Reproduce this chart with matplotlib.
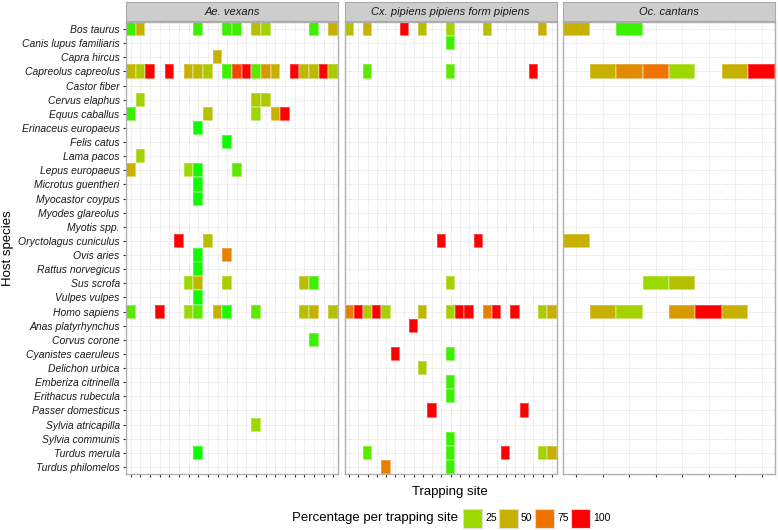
import numpy as np
import matplotlib.pyplot as plt
from matplotlib.colors import LinearSegmentedColormap
from matplotlib.patches import Rectangle

plt.rcParams['font.family'] = ['Liberation Sans', 'DejaVu Sans']

species = ['Bos taurus', 'Canis lupus familiaris', 'Capra hircus', 'Capreolus capreolus',
           'Castor fiber', 'Cervus elaphus', 'Equus caballus', 'Erinaceus europaeus',
           'Felis catus', 'Lama pacos', 'Lepus europaeus', 'Microtus guentheri',
           'Myocastor coypus', 'Myodes glareolus', 'Myotis spp.', 'Oryctolagus cuniculus',
           'Ovis aries', 'Rattus norvegicus', 'Sus scrofa', 'Vulpes vulpes', 'Homo sapiens',
           'Anas platyrhynchus', 'Corvus corone', 'Cyanistes caeruleus', 'Delichon urbica',
           'Emberiza citrinella', 'Erithacus rubecula', 'Passer domesticus',
           'Sylvia atricapilla', 'Sylvia communis', 'Turdus merula', 'Turdus philomelos']

mosquitoes = ['Ae. vexans', 'Cx. pipiens pipiens form pipiens', 'Oc. cantans']
n_sites = [22, 23, 8]

# (trapping site, percentage) per host species
vexans = {
    'Bos taurus': [(1, 10), (2, 50), (8, 10), (11, 10), (12, 10), (14, 40), (15, 30), (20, 10), (22, 50)],
    'Capra hircus': [(10, 50)],
    'Capreolus capreolus': [(1, 45), (2, 35), (3, 100), (5, 100), (7, 50), (8, 45), (9, 35), (11, 10),
                            (12, 85), (13, 100), (14, 15), (15, 60), (16, 50), (18, 100), (19, 45),
                            (20, 45), (21, 100), (22, 35)],
    'Cervus elaphus': [(2, 30), (14, 35), (15, 35)],
    'Equus caballus': [(1, 10), (9, 40), (14, 25), (16, 50), (17, 100)],
    'Erinaceus europaeus': [(8, 3)],
    'Felis catus': [(11, 3)],
    'Lama pacos': [(2, 30)],
    'Lepus europaeus': [(1, 50), (7, 25), (8, 3), (12, 15)],
    'Microtus guentheri': [(8, 3)],
    'Myocastor coypus': [(8, 3)],
    'Oryctolagus cuniculus': [(6, 100), (9, 40)],
    'Ovis aries': [(8, 3), (11, 70)],
    'Rattus norvegicus': [(8, 3)],
    'Sus scrofa': [(7, 25), (8, 45), (11, 35), (19, 40), (20, 10)],
    'Vulpes vulpes': [(8, 3)],
    'Homo sapiens': [(1, 15), (4, 100), (7, 25), (8, 15), (10, 50), (11, 5), (14, 15), (19, 40),
                     (20, 50), (22, 40)],
    'Corvus corone': [(20, 10)],
    'Sylvia atricapilla': [(14, 25)],
    'Turdus merula': [(8, 3)],
}

pipiens = {
    'Bos taurus': [(1, 40), (3, 50), (7, 100), (9, 40), (12, 30), (16, 40), (22, 50)],
    'Canis lupus familiaris': [(12, 10)],
    'Capreolus capreolus': [(3, 15), (12, 15), (21, 100)],
    'Oryctolagus cuniculus': [(11, 100), (15, 100)],
    'Sus scrofa': [(12, 30)],
    'Homo sapiens': [(1, 70), (2, 100), (3, 35), (4, 100), (5, 30), (9, 45), (12, 30), (13, 100),
                     (14, 100), (16, 70), (17, 100), (19, 100), (22, 35), (23, 50)],
    'Anas platyrhynchus': [(8, 100)],
    'Cyanistes caeruleus': [(6, 100), (12, 10)],
    'Delichon urbica': [(9, 35)],
    'Emberiza citrinella': [(12, 10)],
    'Erithacus rubecula': [(12, 10)],
    'Passer domesticus': [(10, 100), (20, 100)],
    'Sylvia communis': [(12, 10)],
    'Turdus merula': [(3, 15), (12, 10), (18, 100), (22, 30), (23, 50)],
    'Turdus philomelos': [(5, 70), (12, 10)],
}

cantans = {
    'Bos taurus': [(1, 50), (3, 10)],
    'Capreolus capreolus': [(2, 50), (3, 65), (4, 75), (5, 25), (7, 50), (8, 100)],
    'Oryctolagus cuniculus': [(1, 50)],
    'Sus scrofa': [(4, 25), (5, 40)],
    'Homo sapiens': [(2, 50), (3, 30), (5, 60), (6, 100), (7, 50)],
}

legend_values = [25, 50, 75, 100]

cmap = LinearSegmentedColormap.from_list('pct', [(0, '#00FF00'), (0.25, '#9CD900'), (0.5, '#C8B000'),
                                                 (0.75, '#EE7400'), (1, '#FF0000')])

W, H = 778, 530
fig = plt.figure(figsize=(W / 100, H / 100), dpi=100)

def px(x0, y0, w, h):
    # pixel box measured from top-left -> figure fraction
    return [x0 / W, 1 - (y0 + h) / H, w / W, h / H]

panel_left = [126, 344.5, 563]
panel_w = 212
top, bottom = 22, 474

for i, (name, data, n) in enumerate(zip(mosquitoes, [vexans, pipiens, cantans], n_sites)):
    ax = fig.add_axes(px(panel_left[i], top, panel_w, bottom - top))
    grid = np.full((len(species), n), np.nan)
    for sp, cells in data.items():
        r = species.index(sp)
        for site, v in cells:
            grid[r, site - 1] = v
    ax.pcolormesh(np.arange(0.5, n + 1), np.arange(-0.5, len(species)), np.ma.masked_invalid(grid),
                  cmap=cmap, vmin=0, vmax=100, edgecolor=(1, 1, 1, 0.25), linewidth=0.3)
    ax.set_xlim(0.5, n + 0.5)
    ax.set_ylim(len(species) - 0.5, -0.5)
    ax.set_xticks(range(1, n + 1))
    ax.set_xticklabels([])
    ax.set_yticks(range(len(species)))
    ax.tick_params(length=2.5, width=0.8, color='#333333')
    if i == 0:
        ax.set_yticklabels(species, fontstyle='italic', fontsize=7.5, color='#1A1A1A')
        ax.tick_params(axis='y', pad=2)
    else:
        ax.set_yticklabels([])
        ax.tick_params(axis='y', length=0)
    ax.grid(True, color='#E3E3E3', linewidth=0.6, linestyle=(0, (2, 1)))
    ax.set_axisbelow(True)
    for s in ax.spines.values():
        s.set_color('#B0B0B0')
        s.set_linewidth(1.0)

    strip = fig.add_axes(px(panel_left[i], 2, panel_w, 19))
    strip.set_facecolor('#CDCDCD')
    strip.set_xticks([])
    strip.set_yticks([])
    for s in strip.spines.values():
        s.set_color('#AAAAAA')
    strip.text(0.5, 0.45, name, ha='center', va='center', fontstyle='italic', fontsize=8,
               color='#1A1A1A', transform=strip.transAxes)

fig.text(8 / W, 1 - 248 / H, 'Host species', rotation=90, ha='center', va='center', fontsize=9.5)
fig.text(450 / W, 1 - 492 / H, 'Trapping site', ha='center', va='center', fontsize=9.5)

# legend
fig.text(458 / W, 1 - 518 / H, 'Percentage per trapping site', ha='right', va='center', fontsize=9.5)
for k, v in enumerate(legend_values):
    kx = 463 + k * 36
    fig.add_artist(Rectangle((kx / W, 1 - 528 / H), 19 / W, 19 / H, transform=fig.transFigure,
                             facecolor=cmap(v / 100), edgecolor='#DDDDDD', linewidth=0.8))
    fig.text((kx + 22) / W, 1 - 518 / H, str(v), ha='left', va='center', fontsize=7.5)

fig.savefig('out.png', dpi=100)
